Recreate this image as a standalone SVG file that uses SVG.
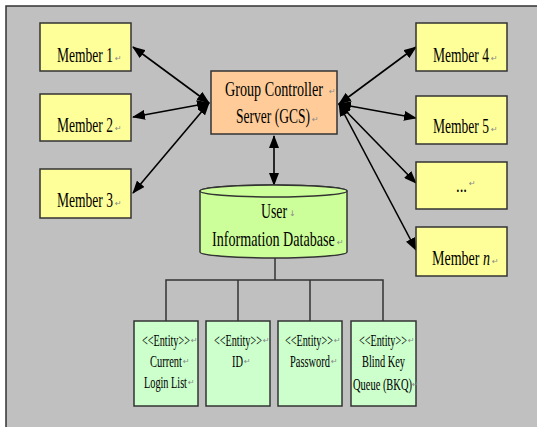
<svg xmlns="http://www.w3.org/2000/svg" width="537" height="427" viewBox="0 0 537 427">
<defs>
<marker id="ah" viewBox="0 0 13 10" refX="12" refY="5" markerWidth="13" markerHeight="10" markerUnits="userSpaceOnUse" orient="auto-start-reverse">
<path d="M0,0 L13,5 L0,10 Z" fill="#000"/>
</marker>
<style>
.mem{fill:#ffff99;stroke:#333;stroke-width:1.5}
.gcs{fill:#ffcc99;stroke:#333;stroke-width:1.5}
.db{fill:#ccff99;stroke:#333;stroke-width:1.5}
.ent{fill:#ccffcc;stroke:#333;stroke-width:1.5}
.t{font-family:"Liberation Serif","Times New Roman",serif;fill:#000}
.big{font-size:22px}
.mid{font-size:21px}
.sm{font-size:16px}
.pm{font-family:"DejaVu Sans",sans-serif;font-size:8px;fill:#888}
.arr{stroke:#000;stroke-width:1.6;fill:none;marker-start:url(#ah);marker-end:url(#ah)}
.ln{stroke:#333;stroke-width:1.5;fill:none}
</style>
</defs>
<rect x="0" y="0" width="537" height="427" fill="#fff"/>
<rect x="6" y="6" width="540" height="430" fill="#c0c0c0" stroke="#333" stroke-width="1.5"/>

<g id="connectors">
<line class="arr" x1="209" y1="103" x2="133" y2="47"/>
<line class="arr" x1="209" y1="103" x2="133" y2="117"/>
<line class="arr" x1="209" y1="103" x2="133" y2="193"/>
<line class="arr" x1="339" y1="104" x2="416" y2="47"/>
<line class="arr" x1="339" y1="104" x2="416" y2="118"/>
<line class="arr" x1="339" y1="104" x2="416" y2="183"/>
<line class="arr" x1="339" y1="104" x2="416" y2="250"/>
<line class="arr" x1="274" y1="136" x2="274" y2="185"/>
<path class="ln" d="M275,257 V280 M166,321 V280 H383 V321 M238,280 V321 M310,280 V321"/>
</g>

<g id="member1">
<rect class="mem" x="40" y="23" width="91" height="48"/>
<text class="t big" transform="translate(57,62) scale(0.615,1)">Member 1</text>
<text class="pm" x="115" y="61">↵</text>
</g>
<g id="member2">
<rect class="mem" x="40" y="94" width="91" height="47"/>
<text class="t big" transform="translate(57,132) scale(0.615,1)">Member 2</text>
<text class="pm" x="115" y="131">↵</text>
</g>
<g id="member3">
<rect class="mem" x="40" y="169" width="91" height="49"/>
<text class="t big" transform="translate(57,207) scale(0.615,1)">Member 3</text>
<text class="pm" x="115" y="206">↵</text>
</g>

<g id="gcs">
<rect class="gcs" x="211" y="71" width="126" height="63"/>
<text class="t mid" transform="translate(225,96) scale(0.675,1)">Group Controller</text>
<text class="pm" x="329" y="94">↵</text>
<text class="t mid" transform="translate(236,123) scale(0.644,1)">Server (GCS)</text>
<text class="pm" x="312" y="122">↵</text>
</g>

<g id="member4">
<rect class="mem" x="416" y="23" width="91" height="48"/>
<text class="t big" transform="translate(433,62) scale(0.615,1)">Member 4</text>
<text class="pm" x="491" y="61">↵</text>
</g>
<g id="member5">
<rect class="mem" x="416" y="96" width="91" height="48"/>
<text class="t big" transform="translate(433,133) scale(0.615,1)">Member 5</text>
<text class="pm" x="491" y="132">↵</text>
</g>
<g id="memberdots">
<rect class="mem" x="416" y="162" width="91" height="47"/>
<text class="t big" transform="translate(456,192) scale(0.667,1)">...</text>
<text class="pm" x="469" y="186">↵</text>
</g>
<g id="membern">
<rect class="mem" x="416" y="227" width="91" height="49"/>
<text class="t big" transform="translate(432,265) scale(0.637,1)">Member <tspan font-style="italic">n</tspan></text>
<text class="pm" x="492" y="264">↵</text>
</g>

<g id="database">
<path class="db" d="M200,191 A73.5,6 0 0 1 347,191 V252 A73.5,6 0 0 1 200,252 Z"/>
<ellipse class="db" cx="273.5" cy="191" rx="73.5" ry="6"/>
<text class="t mid" transform="translate(261,218) scale(0.656,1)">User</text>
<text class="pm" x="289" y="216">↓</text>
<text class="t mid" transform="translate(212,246) scale(0.674,1)">Information Database</text>
<text class="pm" x="337" y="245">↵</text>
</g>

<g id="entity1">
<rect class="ent" x="134" y="321" width="64" height="85"/>
<text class="t sm" transform="translate(142,346) scale(0.638,1)">&lt;&lt;Entity&gt;&gt;</text>
<text class="pm" x="191" y="343">↵</text>
<text class="t sm" transform="translate(150,367) scale(0.654,1)">Current</text>
<text class="pm" x="183" y="364">↵</text>
<text class="t sm" transform="translate(144,388) scale(0.641,1)">Login List</text>
<text class="pm" x="188" y="385">↵</text>
</g>
<g id="entity2">
<rect class="ent" x="206" y="321" width="64" height="85"/>
<text class="t sm" transform="translate(214,346) scale(0.638,1)">&lt;&lt;Entity&gt;&gt;</text>
<text class="pm" x="263" y="343">↵</text>
<text class="t sm" transform="translate(232,367) scale(0.65,1)">ID</text>
<text class="pm" x="244" y="364">↵</text>
</g>
<g id="entity3">
<rect class="ent" x="278" y="321" width="64" height="85"/>
<text class="t sm" transform="translate(285,346) scale(0.638,1)">&lt;&lt;Entity&gt;&gt;</text>
<text class="pm" x="334" y="343">↵</text>
<text class="t sm" transform="translate(290,367) scale(0.652,1)">Password</text>
<text class="pm" x="331" y="364">↵</text>
</g>
<g id="entity4">
<rect class="ent" x="351" y="321" width="65" height="85"/>
<text class="t sm" transform="translate(359,346) scale(0.638,1)">&lt;&lt;Entity&gt;&gt;</text>
<text class="pm" x="408" y="343">↵</text>
<text class="t sm" transform="translate(362,367) scale(0.65,1)">Blind Key</text>
<text class="t sm" transform="translate(353,390) scale(0.654,1)">Queue (BKQ)</text>
<text class="pm" x="412" y="387">↵</text>
</g>
</svg>
